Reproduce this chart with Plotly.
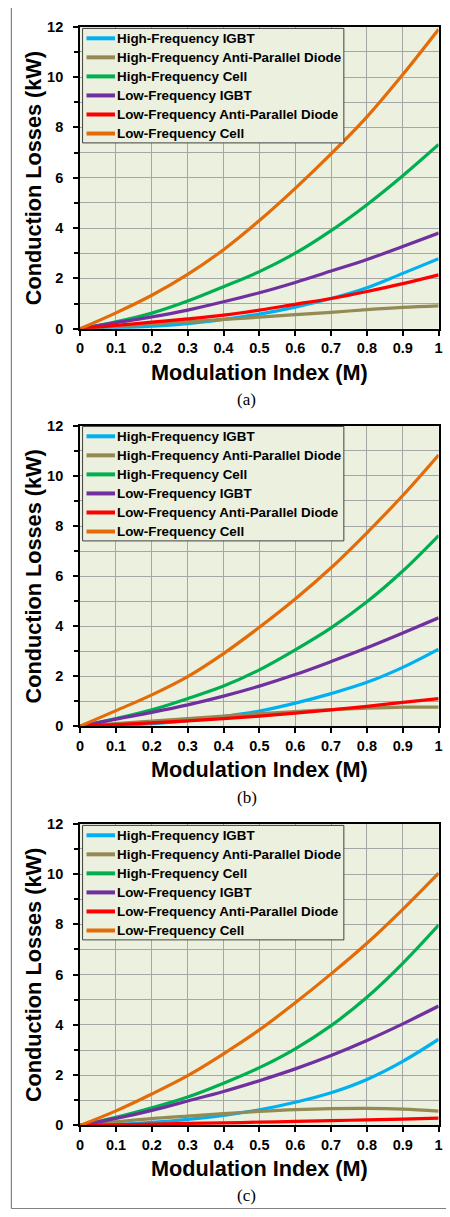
import plotly.graph_objects as go

W, H = 450, 1217

M = [0, 0.1, 0.2, 0.3, 0.4, 0.5, 0.6, 0.7, 0.8, 0.9, 1.0]

series_names = [
    "High-Frequency IGBT",
    "High-Frequency Anti-Parallel Diode",
    "High-Frequency Cell",
    "Low-Frequency IGBT",
    "Low-Frequency Anti-Parallel Diode",
    "Low-Frequency Cell",
]
series_colors = ["#00B0F0", "#948A54", "#00B050", "#7030A0", "#FF0000", "#E36C09"]

# Panel (a)
a_hf_igbt = [0, 0.03, 0.1, 0.2, 0.37, 0.58, 0.86, 1.2, 1.63, 2.2, 2.78]
a_hf_diode = [0, 0.09, 0.19, 0.28, 0.37, 0.46, 0.56, 0.65, 0.76, 0.85, 0.91]
a_hf_cell = [0, 0.27, 0.62, 1.1, 1.67, 2.27, 3.0, 3.9, 4.93, 6.08, 7.32]
a_lf_igbt = [0, 0.24, 0.47, 0.74, 1.07, 1.43, 1.84, 2.29, 2.75, 3.27, 3.8]
a_lf_diode = [0, 0.13, 0.26, 0.39, 0.54, 0.74, 0.97, 1.2, 1.48, 1.79, 2.14]
a_lf_cell = [0, 0.63, 1.33, 2.16, 3.14, 4.3, 5.58, 6.95, 8.42, 10.1, 11.9]

# Panel (b)
b_hf_igbt = [0, 0.03, 0.1, 0.22, 0.38, 0.6, 0.92, 1.3, 1.75, 2.35, 3.08]
b_hf_diode = [0, 0.1, 0.2, 0.3, 0.4, 0.5, 0.58, 0.66, 0.72, 0.76, 0.76]
b_hf_cell = [0, 0.3, 0.65, 1.1, 1.6, 2.25, 3.05, 3.93, 4.97, 6.2, 7.62]
b_lf_igbt = [0, 0.28, 0.55, 0.85, 1.2, 1.6, 2.06, 2.58, 3.13, 3.72, 4.33]
b_lf_diode = [0, 0.06, 0.13, 0.21, 0.3, 0.4, 0.52, 0.65, 0.79, 0.95, 1.1]
b_lf_cell = [0, 0.62, 1.25, 1.98, 2.9, 3.95, 5.08, 6.33, 7.73, 9.22, 10.84]

# Panel (c)
c_hf_igbt = [0, 0.04, 0.12, 0.24, 0.4, 0.62, 0.92, 1.3, 1.83, 2.55, 3.43]
c_hf_diode = [0, 0.14, 0.27, 0.37, 0.47, 0.56, 0.63, 0.67, 0.68, 0.65, 0.57]
c_hf_cell = [0, 0.32, 0.7, 1.13, 1.68, 2.3, 3.05, 3.97, 5.1, 6.45, 7.97]
c_lf_igbt = [0, 0.28, 0.6, 0.97, 1.35, 1.78, 2.25, 2.78, 3.38, 4.04, 4.75]
c_lf_diode = [0, 0.02, 0.05, 0.08, 0.1, 0.13, 0.16, 0.19, 0.22, 0.25, 0.29]
c_lf_cell = [0, 0.58, 1.25, 1.98, 2.85, 3.8, 4.88, 6.03, 7.25, 8.6, 10.04]

panels = [
    ("(a)", [a_hf_igbt, a_hf_diode, a_hf_cell, a_lf_igbt, a_lf_diode, a_lf_cell]),
    ("(b)", [b_hf_igbt, b_hf_diode, b_hf_cell, b_lf_igbt, b_lf_diode, b_lf_cell]),
    ("(c)", [c_hf_igbt, c_hf_diode, c_hf_cell, c_lf_igbt, c_lf_diode, c_lf_cell]),
]

x_ticks = [0, 0.1, 0.2, 0.3, 0.4, 0.5, 0.6, 0.7, 0.8, 0.9, 1]
x_tick_labels = ["0", "0.1", "0.2", "0.3", "0.4", "0.5", "0.6", "0.7", "0.8", "0.9", "1"]
y_ticks = [0, 2, 4, 6, 8, 10, 12]
y_tick_labels = ["0", "2", "4", "6", "8", "10", "12"]

x_title = "Modulation Index (M)"
y_title = "Conduction Losses (kW)"

# layout geometry (pixels)
PLOT_L, PLOT_R = 77.5, 442.5
panel_px = [(19, 325), (423.5, 727.7), (826.7, 1132.3)]
legend_top_px = [20.7, 424, 828.3]
LEG_L, LEG_R = 80, 346
LEG_ROW0, LEG_STEP = 10, 19.3
LEG_H = 116
sub_label_px = [397, 800, 1203]

def px_x(v):
    return v / W

def px_y(v):
    return 1 - v / H

FONT = "Liberation Sans, Arial, sans-serif"
BG = "#EBF0DF"
GRID = "#A6A6A6"

fig = go.Figure()
layout = dict(
    width=W, height=H,
    margin=dict(l=0, r=0, t=0, b=0),
    paper_bgcolor="white",
    plot_bgcolor=BG,
    font=dict(family=FONT, color="black"),
    showlegend=False,
)
annotations = []
shapes = []

for i, (label, data) in enumerate(panels):
    k = "" if i == 0 else str(i + 1)
    xa = "x" + k
    ya = "y" + k
    top, bot = panel_px[i]
    for j, (name, color, vals) in enumerate(zip(series_names, series_colors, data)):
        fig.add_trace(go.Scatter(
            x=M, y=vals, mode="lines", name=name,
            line=dict(color=color, width=3.2, shape="spline", smoothing=1.0),
            xaxis=xa, yaxis=ya, hoverinfo="skip",
        ))
    axis_common = dict(
        showline=True, linecolor="black", linewidth=2, mirror=True,
        ticks="outside", tickcolor="black", tickwidth=1.5, ticklen=5,
        tickfont=dict(family=FONT, size=14.5, color="black", weight="bold"),
        showgrid=True, gridcolor=GRID, gridwidth=1, zeroline=False,
        fixedrange=True,
    )
    layout["xaxis" + k] = dict(
        axis_common, domain=[px_x(PLOT_L), px_x(PLOT_R)], range=[0, 1],
        tickmode="array", tickvals=x_ticks, ticktext=x_tick_labels,
        anchor=ya,
    )
    layout["yaxis" + k] = dict(
        axis_common, domain=[px_y(bot), px_y(top)], range=[0, 12],
        tickmode="array", tickvals=y_ticks, ticktext=y_tick_labels,
        anchor=xa, ticklabelposition="outside", ticklabelstandoff=7,
        minor=dict(dtick=1, ticks="outside", ticklen=4, tickcolor="black",
                   showgrid=True, gridcolor=GRID, gridwidth=1),
    )

    # legend box (drawn as a box with line swatches and labels)
    lt = legend_top_px[i]
    shapes.append(dict(type="rect", xref="paper", yref="paper",
                       x0=px_x(LEG_L), x1=px_x(LEG_R), y0=px_y(lt + LEG_H), y1=px_y(lt),
                       fillcolor=BG, line=dict(color="#404040", width=1), layer="above"))
    for j, (name, color) in enumerate(zip(series_names, series_colors)):
        ry = lt + LEG_ROW0 + j * LEG_STEP
        shapes.append(dict(type="line", xref="paper", yref="paper",
                           x0=px_x(LEG_L + 4), x1=px_x(LEG_L + 33), y0=px_y(ry), y1=px_y(ry),
                           line=dict(color=color, width=4), layer="above"))
        annotations.append(dict(
            text=name, xref="paper", yref="paper",
            x=px_x(LEG_L + 33), y=px_y(ry), showarrow=False,
            xanchor="left", yanchor="middle",
            font=dict(family=FONT, size=13.4, color="black", weight="bold"),
        ))

    annotations.append(dict(
        text=x_title, xref="paper", yref="paper",
        x=px_x((PLOT_L + PLOT_R) / 2), y=px_y(bot + 44),
        showarrow=False, xanchor="center", yanchor="middle",
        font=dict(family=FONT, size=21.7, color="black", weight="bold"),
    ))
    annotations.append(dict(
        text=y_title, xref="paper", yref="paper",
        x=px_x(30), y=px_y((top + bot) / 2), textangle=-90,
        showarrow=False, xanchor="center", yanchor="middle",
        font=dict(family=FONT, size=21.7, color="black", weight="bold"),
    ))
    annotations.append(dict(
        text=label, xref="paper", yref="paper",
        x=px_x(247), y=px_y(sub_label_px[i]),
        showarrow=False, xanchor="center", yanchor="middle",
        font=dict(family="Liberation Serif, Times New Roman, serif", size=17, color="black"),
    ))

# outer frame lines (left and bottom)
shapes.append(dict(type="line", xref="paper", yref="paper",
                   x0=px_x(7.5), x1=px_x(7.5), y0=px_y(0), y1=px_y(1216.5),
                   line=dict(color="#808080", width=1.2)))
shapes.append(dict(type="line", xref="paper", yref="paper",
                   x0=px_x(7.5), x1=1, y0=px_y(1216.5), y1=px_y(1216.5),
                   line=dict(color="#808080", width=1.2)))

layout["annotations"] = annotations
layout["shapes"] = shapes
fig.update_layout(**layout)

fig.write_html("out.html")
